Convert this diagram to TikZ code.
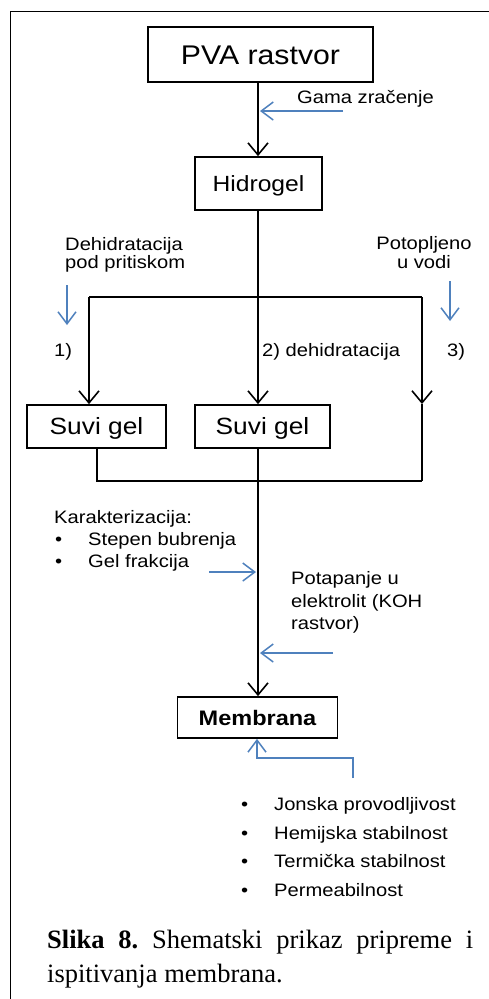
\documentclass[tikz,border=0pt]{standalone}
\usepackage{fontspec}
\setmainfont{Liberation Serif}
\newfontfamily\af[FakeStretch=1.12]{Liberation Sans}
\usetikzlibrary{arrows.meta}
\definecolor{ablue}{RGB}{79,129,189}
\frenchspacing
\begin{document}
\begin{tikzpicture}[x=1pt,y=-1pt,
  box/.style={draw, line width=1.8pt, inner sep=0pt, text depth=0pt, align=center},
  ln/.style={line width=1.6pt},
  arr/.style={ln, -{Straight Barb[length=12pt,width=20pt,line width=1.6pt]}},
  barr/.style={draw=ablue, line width=1.5pt, -{Straight Barb[length=12pt,width=18pt,line width=1.5pt]}},
  lbl/.style={font=\af\fontsize{18}{22}\selectfont, inner sep=0pt},
  captext/.style={font=\fontsize{26.5}{34}\selectfont, inner sep=0pt, anchor=base west},
]
\useasboundingbox (0,0) rectangle (489,999);
\fill[white] (0,0) rectangle (489,999);
\draw[line width=1pt] (10,999) -- (10,11) -- (489,11);

% boxes
\node[box, minimum width=225pt, minimum height=55pt, text height=19.4pt, font=\af\fontsize{27}{30}\selectfont] (pva) at (260.5,54.5) {PVA rastvor};
\node[box, minimum width=127pt, minimum height=53pt, text height=15.8pt, font=\af\fontsize{22}{26}\selectfont] (hid) at (258.5,183.5) {Hidrogel};
\node[box, minimum width=139pt, minimum height=43pt, text height=16.9pt, font=\af\fontsize{23.5}{26}\selectfont] (sg1) at (96.5,426.5) {Suvi gel};
\node[box, minimum width=135pt, minimum height=43pt, text height=16.9pt, font=\af\fontsize{23.5}{26}\selectfont] (sg2) at (262.5,426.5) {Suvi gel};
\node[box, minimum width=160pt, minimum height=41pt, text height=15.1pt, font=\af\bfseries\fontsize{21}{24}\selectfont] (mem) at (257.5,717.5) {Membrana};

% coordinates
\coordinate (j1) at (258,297);
\coordinate (cL) at (89,297);
\coordinate (cR) at (422,297);
\coordinate (aR) at (422,404);
\coordinate (bL) at (97,481);
\coordinate (bM) at (258,481);
\coordinate (bR) at (422,481);

% black connectors
\draw[arr] (j1 |- pva.south) -- (j1 |- hid.north);
\draw[ln] (j1 |- hid.south) -- (j1);
\draw[ln] (cL) -- (cR);
\draw[arr] (cL) -- (cL |- sg1.north);
\draw[arr] (j1) -- (j1 |- sg2.north);
\draw[arr] (cR) -- (aR);
\draw[ln] (aR) -- (bR);
\draw[ln] (bL |- sg1.south) -- (bL) -- (bR);
\draw[ln] (j1 |- sg2.south) -- (bM);
\draw[arr] (bM) -- (bM |- mem.north);

% blue arrows
\coordinate (g1) at (343,111); \coordinate (g2) at (260,111);
\coordinate (d1a) at (67,285); \coordinate (d1b) at (67,325);
\coordinate (d3a) at (450,281); \coordinate (d3b) at (450,321);
\coordinate (k1) at (209,572); \coordinate (k2) at (256,572);
\coordinate (p1) at (333,653); \coordinate (p2) at (260,653);
\coordinate (m1) at (353,778); \coordinate (m2) at (353,758); \coordinate (m3) at (257,758);
\draw[barr] (g1) -- (g2);
\draw[barr] (d1a) -- (d1b);
\draw[barr] (d3a) -- (d3b);
\draw[barr] (k1) -- (k2);
\draw[barr] (p1) -- (p2);
\draw[barr] (m1) -- (m2) -- (m3) -- (m3 |- mem.south);

% labels
\node[lbl, anchor=base west] (gama) at (297,103) {Gama zračenje};
\node[lbl, anchor=base west] (deh1) at (65,250) {Dehidratacija};
\node[lbl, anchor=base west] (deh2) at (65,268) {pod pritiskom};
\node[lbl, anchor=base] (pot1) at (424,249) {Potopljeno};
\node[lbl, anchor=base] (pot2) at (424,268) {u vodi};
\node[lbl, anchor=base west] (n1) at (54,356) {1)};
\node[lbl, anchor=base west] (n2) at (262,356) {2) dehidratacija};
\node[lbl, anchor=base west] (n3) at (447,356) {3)};

\node[lbl, anchor=base west] (kar) at (54,523) {Karakterizacija:};
\node[lbl, anchor=base west] (kb1) at (55,545) {•};
\node[lbl, anchor=base west] (kt1) at (88,545) {Stepen bubrenja};
\node[lbl, anchor=base west] (kb2) at (55,567) {•};
\node[lbl, anchor=base west] (kt2) at (88,567) {Gel frakcija};

\node[lbl, anchor=base west] (pt1) at (291,584) {Potapanje u};
\node[lbl, anchor=base west] (pt2) at (291,607) {elektrolit (KOH};
\node[lbl, anchor=base west] (pt3) at (291,629) {rastvor)};

\node[lbl, anchor=base west] (mb1) at (241,810) {•};
\node[lbl, anchor=base west] (mt1) at (274,810) {Jonska provodljivost};
\node[lbl, anchor=base west] (mb2) at (241,839) {•};
\node[lbl, anchor=base west] (mt2) at (274,839) {Hemijska stabilnost};
\node[lbl, anchor=base west] (mb3) at (241,867) {•};
\node[lbl, anchor=base west] (mt3) at (274,867) {Termička stabilnost};
\node[lbl, anchor=base west] (mb4) at (241,896) {•};
\node[lbl, anchor=base west] (mt4) at (274,896) {Permeabilnost};

% caption
\node[captext] (cap1) at (47,948) {\makebox[426pt][s]{\textbf{Slika 8.} Shematski prikaz pripreme i}};
\node[captext] (cap2) at (47,982) {ispitivanja membrana.};
\end{tikzpicture}
\end{document}
